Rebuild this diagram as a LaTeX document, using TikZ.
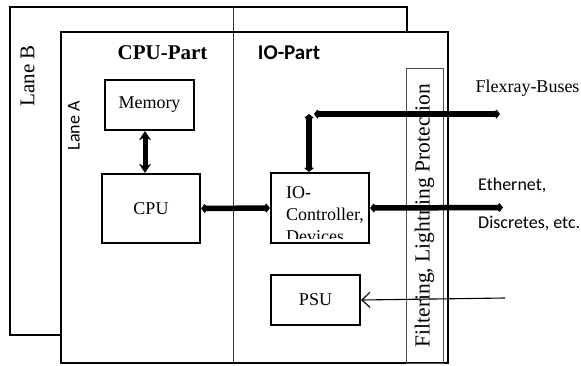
\documentclass[tikz,border=0pt]{standalone}
\usepackage{fontspec}
\setmainfont{Liberation Serif}
\newfontfamily\calibri{Carlito}
\usetikzlibrary{arrows.meta}

\begin{document}
\begin{tikzpicture}[x=1pt, y=-1pt, line width=2.4pt,
    unit/.style={draw, fill=white, line width=2.2pt, inner sep=0pt,
                 font=\fontsize{18}{21}\selectfont},
    bus/.style={line width=5.5pt, {Diamond[length=7pt,width=9pt]}-{Diamond[length=7pt,width=9pt]}},
    memlink/.style={line width=5pt, {Stealth[length=9pt,width=12pt]}-{Stealth[length=9pt,width=12pt]}},
    normaltext/.style={font=\fontsize{18}{21}\selectfont, inner sep=0pt},
    bigtext/.style={font=\fontsize{21}{24}\selectfont, inner sep=0pt}]
  \useasboundingbox (0,0) rectangle (581,365);

  % the two lanes, B behind A
  \draw (10,7) rectangle (407,335);
  \draw[fill=white] (61,32) rectangle (448,363);
  \node[bigtext, rotate=90] (laneB) at (27.5,76) {Lane B};
  \node[normaltext, rotate=90, font=\calibri\fontsize{18}{21}\selectfont] (laneA) at (74,126) {Lane A};

  % CPU part | IO part
  \draw[line width=0.9pt, black!80] (233,7) -- (233,363);
  \node[bigtext, font=\bfseries\fontsize{21}{24}\selectfont] (cpuPart) at (162.5,53) {CPU-Part};
  \node[bigtext, font=\calibri\bfseries\fontsize{21}{24}\selectfont] (ioPart) at (289,53) {IO-Part};

  % filtering strip
  \draw[line width=0.7pt, black!70] (406,68) rectangle (443,363);
  \node[rotate=90, inner sep=0pt, font=\fontsize{21.5}{24}\selectfont] (filter) at (424.5,215.5)
     {Filtering, Lightning Protection};

  % units
  \node[unit, minimum width=89pt, minimum height=50pt] (mem) at (149.5,105) {Memory};
  \node[unit, minimum width=98pt, minimum height=69pt] (cpu) at (151,208.5) {CPU};
  \node[unit, minimum width=98pt, minimum height=70pt] (io)  at (320,208) {};
  \node[unit, minimum width=89pt, minimum height=50pt] (psu) at (315.5,300) {PSU};

  % IO text, cut by its box
  \begin{scope}
    \clip (io.north west) rectangle ([yshift=6pt]io.south east);
    \node[normaltext, anchor=north west, align=left, font=\fontsize{18}{22}\selectfont]
       (ioText) at (285,185) {IO-\\Controller,\\Devices};
  \end{scope}

  % outer ends of the links
  \coordinate (flexJoint) at (309,114);
  \coordinate (flexEnd)   at (500,114);
  \coordinate (ethEnd)    at (503,207.5);
  \coordinate (psuIn)     at (505,298);

  % links
  \draw[memlink] (mem.south -| 145,0) -- (cpu.north -| 145,0);
  \draw[bus] (cpu.east) -- (io.west);
  \draw[bus] (io.north -| flexJoint) -- (flexJoint);
  \draw[bus] ([xshift=5pt]flexJoint) -- (flexEnd);
  \draw[bus] (io.east) -- (ethEnd);
  \draw[line width=1.1pt, -{Straight Barb[length=8pt,width=15pt]}] (psuIn) -- (psu.east);

  % outside labels
  \node[normaltext] (flexray) at (527.5,88) {Flexray-Buses};
  \node[normaltext, anchor=west, font=\calibri\fontsize{18}{21}\selectfont] (ethernet) at (477,185) {Ethernet,};
  \node[normaltext, anchor=west, font=\calibri\fontsize{18}{21}\selectfont] (discretes) at (477,223) {Discretes, etc.};
\end{tikzpicture}
\end{document}
